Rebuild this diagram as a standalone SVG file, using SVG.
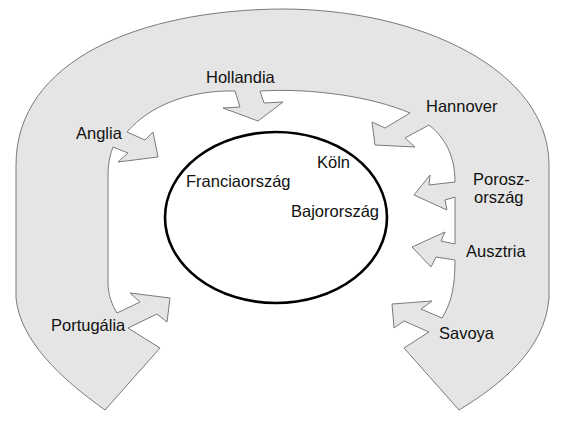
<svg xmlns="http://www.w3.org/2000/svg" width="564" height="429" viewBox="0 0 564 429">
<style>
.band{fill:#e5e5e5;stroke:#7a7a7a;stroke-width:1;stroke-linejoin:miter}
.core{fill:#fff;stroke:#000;stroke-width:2.6}
text{font-family:"Liberation Sans",Arial,sans-serif;font-size:16.5px;fill:#111}
</style>
<rect width="564" height="429" fill="#fff"/>
<g id="band">
<path class="band" d="M105,410 C60,378 20,340 16,298 L16,165 C16,60 140,10 282,9 C420,9 549,70 549,165 L549,298 C545,350 500,385 459,410 L404,348 L429,332 L404,321 L394,328 L392,304 L432,301 L421,309 L442,318 C452,302 455,285 455,260 L436,257 L431,267 L412,247 L445,232 L441,241 L455,244 L455,197 L445,200 L447,210 L414,195 L430,175 L429,185 L455,182 C455,160 448,140 429,125 L405,138 L415,147 L375,145 L372,122 L385,128 L410,113 C370,96 310,88 260,91 L264,103 L283,102 L258,121 L223,108 L240,107 L235,91 C190,90 150,105 127,132 L145,140 L153,132 L158,157 L118,162 L128,153 L113,147 C108,160 108,170 108,180 L108,282 C108,295 112,305 117,313 L140,302 L130,293 L170,298 L167,322 L157,314 L128,328 L160,348 Z"/>
</g>
<g id="core">
<ellipse class="core" cx="276" cy="217.5" rx="111" ry="85.5"/>
<text x="186" y="187">Franciaország</text>
<text x="317" y="168">Köln</text>
<text x="291" y="217">Bajorország</text>
</g>
<g id="labels">
<text x="206" y="83">Hollandia</text>
<text x="76" y="139">Anglia</text>
<text x="426" y="112">Hannover</text>
<text x="473" y="185">Porosz-</text>
<text x="474" y="203">ország</text>
<text x="466" y="257">Ausztria</text>
<text x="439" y="339">Savoya</text>
<text x="51" y="331">Portugália</text>
</g>
<g id="connectors"></g>
</svg>
